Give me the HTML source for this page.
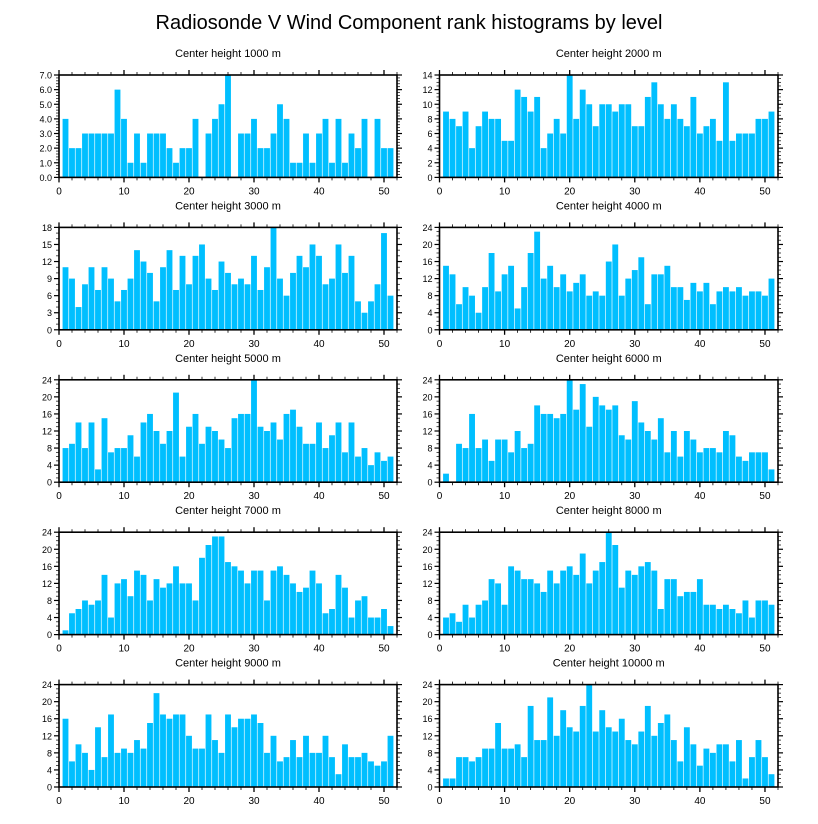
<!DOCTYPE html>
<html><head><meta charset="utf-8"><style>
body{margin:0;background:#fff;}
svg{display:block;font-family:"Liberation Sans",sans-serif;}
</style></head><body>
<svg id="chart" width="818" height="824" viewBox="0 0 818 824" xmlns="http://www.w3.org/2000/svg">
<text x="409" y="29" font-size="20" text-anchor="middle">Radiosonde V Wind Component rank histograms by level</text>
</svg>
<script>
const levels = [1000,2000,3000,4000,5000,6000,7000,8000,9000,10000];
const yMax = [7,14,18,24,24,24,24,24,24,24];
const yStep = [1,2,3,4,4,4,4,4,4,4];
const xTicks = [0,10,20,30,40,50];
const v1000 = [4,2,2,3,3,3,3,3,6,4,1,3,1,3,3,3,2,1,2,2,4,0,3,4,5,7,0,3,3,4,2,2,3,5,4,1,1,3,1,3,4,1,4,1,3,2,4,0,4,2,2];
const v2000 = [9,8,7,9,4,7,9,8,8,5,5,12,11,9,11,4,6,8,6,14,8,12,10,7,10,10,9,10,10,7,7,11,13,10,8,10,8,7,11,6,7,8,5,13,5,6,6,6,8,8,9];
const v3000 = [11,9,4,8,11,7,11,9,5,7,9,14,12,10,5,11,14,7,13,8,13,15,9,7,12,10,8,9,8,13,7,11,18,9,6,10,13,11,15,13,8,9,15,10,13,5,3,5,8,17,6];
const v4000 = [15,13,6,10,8,4,10,18,9,13,15,5,10,18,23,12,15,10,13,9,11,13,8,9,8,16,20,8,12,14,17,6,13,13,15,10,10,7,11,9,11,6,9,10,9,10,8,9,9,8,12];
const v5000 = [8,9,14,8,14,3,15,7,8,8,11,6,14,16,12,9,12,21,6,13,16,9,13,12,10,8,15,16,16,24,13,12,14,10,16,17,13,9,9,14,8,11,14,7,14,6,8,4,7,5,6];
const v6000 = [2,0,9,8,16,8,10,5,10,10,7,12,8,9,18,16,16,15,16,24,17,23,13,20,18,17,18,11,10,19,14,12,10,15,7,12,6,12,10,7,8,8,7,12,11,6,5,7,7,7,3];
const v7000 = [1,5,6,8,7,8,14,4,12,13,9,15,14,8,13,11,12,16,12,12,8,18,21,23,23,17,16,15,12,15,15,8,15,16,14,12,10,11,15,12,5,6,14,11,4,8,9,4,4,6,2];
const v8000 = [4,5,3,7,4,7,8,13,12,7,16,15,13,13,12,10,15,12,15,16,14,19,12,15,17,24,21,11,15,14,16,17,15,6,13,13,9,10,10,13,7,7,6,7,6,5,8,4,8,8,7];
const v9000 = [16,6,10,8,4,14,7,17,8,9,8,11,9,15,22,17,16,17,17,12,9,9,17,11,8,17,14,16,16,17,15,8,12,6,7,11,7,12,8,8,12,7,3,10,7,7,8,6,5,6,12];
const v10000 = [2,2,7,7,6,7,9,9,15,9,9,10,7,19,11,11,21,12,18,14,13,19,24,13,18,14,13,16,11,10,13,19,12,15,17,11,6,14,10,5,9,8,10,10,6,11,2,7,11,7,3];
const series = [v1000,v2000,v3000,v4000,v5000,v6000,v7000,v8000,v9000,v10000];

const NS="http://www.w3.org/2000/svg";
const svg=document.getElementById('chart');
function mk(tag,attrs,parent){const e=document.createElementNS(NS,tag);for(const k in attrs)e.setAttribute(k,attrs[k]);(parent||svg).appendChild(e);return e;}
const colL=[59,397], colR=[439.5,778];
for(let p=0;p<10;p++){
  const col=p%2===0?colL:colR, row=Math.floor(p/2);
  const top=75+row*152.4, bot=top+102.4;
  const x0=col[0], x1=col[1];
  const xs=v=>x0+(v/52)*(x1-x0);
  const ys=v=>bot-(v/yMax[p])*(bot-top);
  const g=mk('g',{});
  
  
  const t=mk('text',{x:(x0+x1)/2,y:top-18,'font-size':11,'text-anchor':'middle'},g);
  t.textContent='Center height '+levels[p]+' m';
  
  
  const vals=series[p];
  vals.forEach((v,i)=>{
    const c=i+1;
    const r=mk('rect',{x:xs(c-0.45),y:ys(v),width:xs(0.9)-xs(0),height:bot-ys(v),fill:'#00bfff'},g);
    
    
  });
  const fr=mk('rect',{x:x0,y:top,width:x1-x0,height:bot-top,fill:'none',stroke:'#000','stroke-width':1.6},g);
  
  
  // x ticks
  for(let m=0;m<=52;m+=2){
    const maj=m%10===0, L=maj?5:3;
    mk('line',{x1:xs(m),x2:xs(m),y1:bot,y2:bot+L,stroke:'#000','stroke-width':maj?1.3:0.8},g);
    mk('line',{x1:xs(m),x2:xs(m),y1:top,y2:top-L,stroke:'#000','stroke-width':maj?1.3:0.8},g);
  }
  xTicks.forEach(m=>{
    const tx=mk('text',{x:xs(m),y:bot+17,'font-size':10,'text-anchor':'middle'},g);
    tx.textContent=m;
    
    
  });
  // y ticks
  const minorStep=yStep[p]/(p===2?3:(p===0?5:4));
  for(let k=0;k<=Math.round(yMax[p]/minorStep);k++){
    const v=k*minorStep, maj=Math.abs(v/yStep[p]-Math.round(v/yStep[p]))<1e-6, L=maj?5:3;
    mk('line',{x1:x0,x2:x0-L,y1:ys(v),y2:ys(v),stroke:'#000','stroke-width':maj?1.2:0.7},g);
    mk('line',{x1:x1,x2:x1+L,y1:ys(v),y2:ys(v),stroke:'#000','stroke-width':maj?1.2:0.7},g);
  }
  for(let v=0;v<=yMax[p];v+=yStep[p]){
    const ty=mk('text',{x:x0-7,y:ys(v)+3.5,'font-size':9,'text-anchor':'end'},g);
    ty.textContent=p===0?v.toFixed(1):v;
    
    
  }
}
</script>
</body></html>
